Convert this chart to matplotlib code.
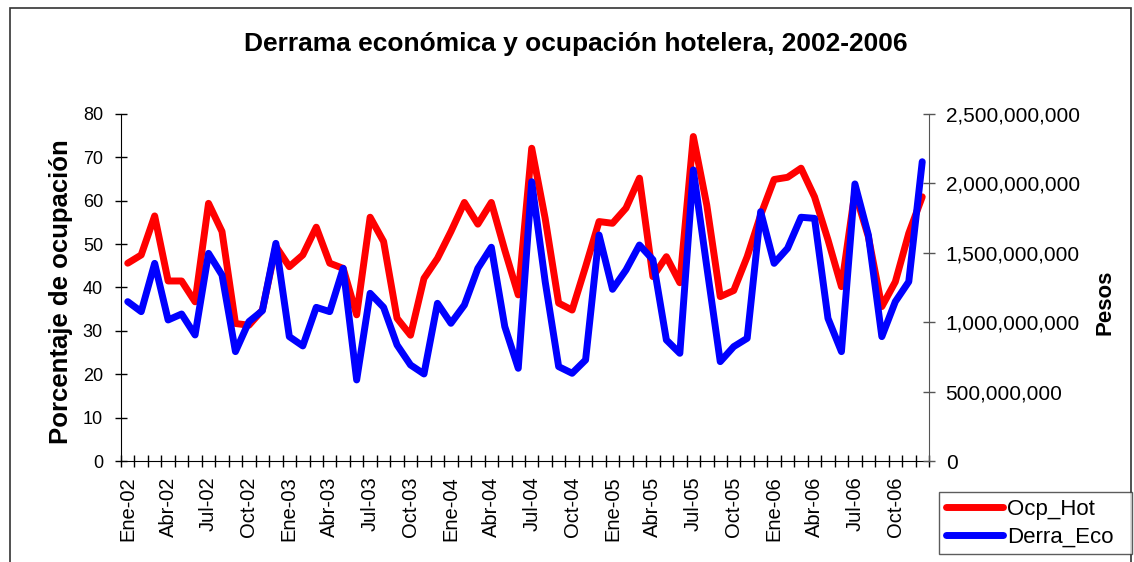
import matplotlib.pyplot as plt
import numpy as np
from matplotlib.patches import Rectangle

plt.rcParams['font.family'] = ['Liberation Sans', 'DejaVu Sans']

# Datos mensuales 2002-2006
meses = ['Ene', 'Feb', 'Mar', 'Abr', 'May', 'Jun', 'Jul', 'Ago', 'Sep', 'Oct', 'Nov', 'Dic']
anios = ['02', '03', '04', '05', '06']
etiquetas = [f'{m}-{a}' for a in anios for m in meses]

ocp_hot = [45.6, 47.5, 56.5, 41.5, 41.5, 36.7, 59.4, 52.9, 31.7, 31.3, 34.8, 49.5,
           44.8, 47.5, 53.9, 45.6, 44.4, 33.7, 56.2, 50.6, 32.9, 29.0, 42.1, 46.7,
           52.9, 59.6, 54.6, 59.6, 48.6, 38.3, 72.1, 55.9, 36.4, 34.8, 44.8, 55.2,
           54.8, 58.3, 65.2, 42.5, 47.1, 41.1, 74.8, 59.0, 37.9, 39.3, 47.1, 56.7,
           64.9, 65.4, 67.5, 60.9, 51.0, 40.2, 62.0, 51.7, 35.6, 41.3, 52.5, 60.9]

# miles de millones de pesos
derra_eco = [1.148, 1.076, 1.424, 1.016, 1.059, 0.908, 1.496, 1.340, 0.788, 1.004, 1.083, 1.568,
             0.896, 0.829, 1.107, 1.076, 1.388, 0.584, 1.208, 1.107, 0.836, 0.692, 0.627, 1.136,
             0.992, 1.124, 1.388, 1.540, 0.968, 0.668, 2.012, 1.292, 0.680, 0.632, 0.728, 1.628,
             1.237, 1.376, 1.556, 1.450, 0.872, 0.776, 2.097, 1.400, 0.716, 0.824, 0.884, 1.796,
             1.424, 1.532, 1.756, 1.748, 1.028, 0.788, 1.996, 1.628, 0.896, 1.148, 1.292, 2.156]
derra_eco = [v * 1e9 for v in derra_eco]

x = np.arange(len(etiquetas))

fig = plt.figure(figsize=(11.34, 5.62), dpi=100)
# marco exterior
fig.patches.append(Rectangle((0.009, -0.1), 0.988, 1.085, transform=fig.transFigure,
                             fill=False, edgecolor='#333333', linewidth=1.2))

ax = fig.add_axes([0.1067, 0.1797, 0.7125, 0.6175])
ax2 = ax.twinx()

l1, = ax.plot(x, ocp_hot, color='#ff0000', linewidth=5, solid_joinstyle='round',
              solid_capstyle='round', label='Ocp_Hot', zorder=2)
l2, = ax2.plot(x, derra_eco, color='#0000ff', linewidth=5, solid_joinstyle='round',
               solid_capstyle='round', label='Derra_Eco', zorder=3)

ax.set_xlim(-0.5, len(x) - 0.5)
ax.set_ylim(0, 80)
ax.set_yticks(range(0, 81, 10))
ticks_pesos = np.arange(0, 2.5e9 + 1, 5e8)
ax2.set_ylim(0, 2.5e9)
ax2.set_yticks(ticks_pesos)
ax2.set_yticklabels([f'{int(v):,}' for v in ticks_pesos])

ax.set_xticks(x[::3])
ax.set_xticklabels(etiquetas[::3], rotation=90)
ax.set_xticks(np.arange(-0.5, len(x), 1), minor=True)
ax.tick_params(axis='x', which='major', length=0, labelsize=14.5, pad=11)
ax.tick_params(axis='x', which='minor', direction='inout', length=9, width=1)
ax.tick_params(axis='y', direction='inout', length=9, width=1, labelsize=13, pad=8.5)
ax2.tick_params(axis='y', direction='inout', length=9, width=1, labelsize=15, pad=7.5,
                color='#555555')

for a in (ax, ax2):
    a.spines['top'].set_visible(False)
ax.spines['right'].set_visible(False)
ax2.spines['left'].set_visible(False)
ax2.spines['bottom'].set_visible(False)
ax2.spines['right'].set_color('#555555')

ax.set_ylabel('Porcentaje de ocupación', fontsize=18.5, fontweight='bold')
ax.yaxis.set_label_coords(-0.06, 0.487)
ax2.set_ylabel('Pesos', fontsize=16, fontweight='bold', rotation=90)
ax2.yaxis.set_label_coords(1.205, 0.458)

fig.text(0.508, 0.922, 'Derrama económica y ocupación hotelera, 2002-2006', fontsize=19,
         fontweight='bold', ha='center', va='center')

leg = fig.legend(handles=[l1, l2], loc='lower left', bbox_to_anchor=(0.828, 0.0142, 0.170, 0.128),
                 mode='expand', fontsize=16, frameon=True, fancybox=False,
                 handlelength=2.6, handletextpad=0.18, borderpad=0.3, labelspacing=0.3,
                 borderaxespad=0)
leg.get_frame().set_edgecolor('#333333')
leg.get_frame().set_linewidth(1)

fig.savefig('out.png', dpi=100)
